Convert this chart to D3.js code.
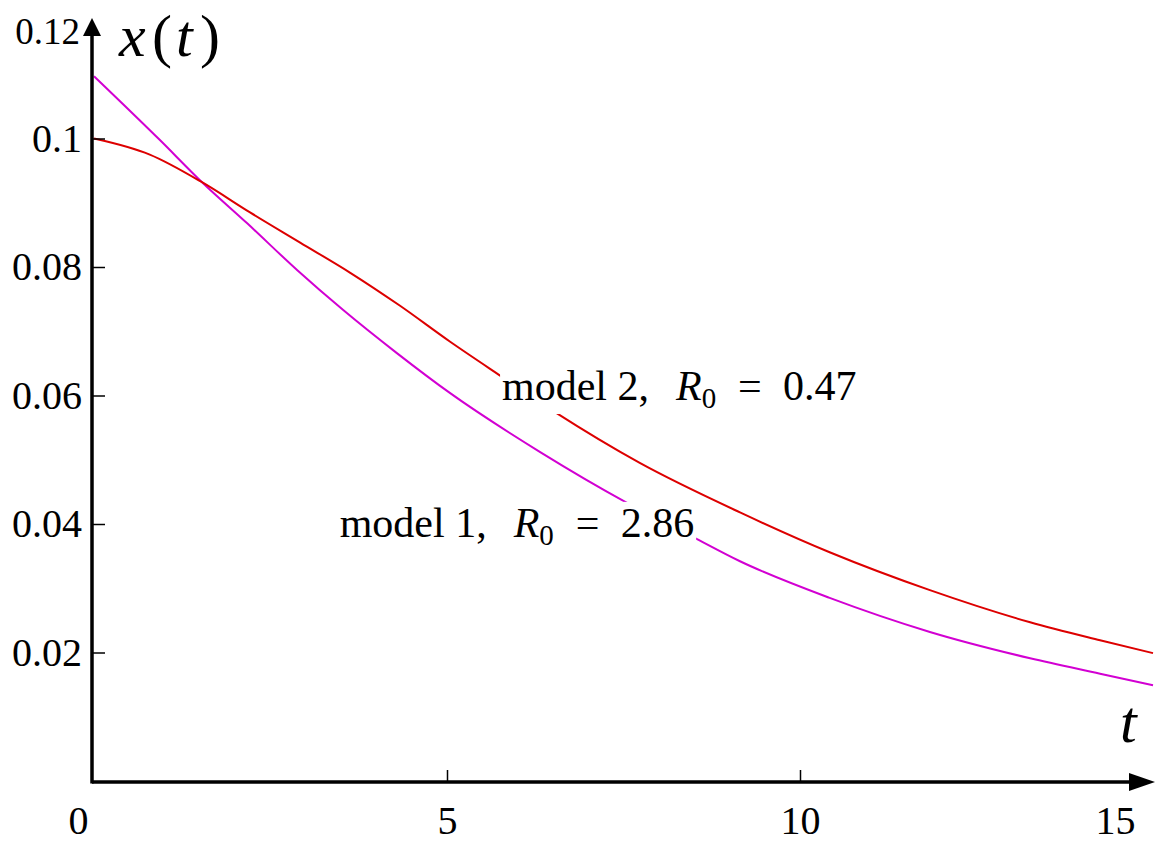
<!DOCTYPE html>
<html>
<head>
<meta charset="utf-8">
<script src="https://cdn.jsdelivr.net/npm/d3@7"></script>
<style>
  body { margin: 0; background: #fff; }
  svg { display: block; font-family: "Liberation Serif", "DejaVu Serif", serif; }
  .tick text { font-family: "Liberation Serif", "DejaVu Serif", serif; font-size: 40px; fill: #000; }
  .math { font-style: italic; }
</style>
</head>
<body>
<div id="chart"></div>
<script>
// values
const model1T = [0, 0.93, 1.53, 2.17, 2.88, 3.53, 4.29, 5.04, 6.32, 7.55, 8.48, 9.15, 10.42, 11.84, 13.26, 14.25, 15];
const model1X = [0.1097, 0.0998, 0.0932, 0.0868, 0.0795, 0.0733, 0.0666, 0.0604, 0.0512, 0.0433, 0.038, 0.0342, 0.0285, 0.0232, 0.0191, 0.0167, 0.0149];
const model2T = [0, 0.79, 1.53, 2.21, 2.92, 3.63, 4.33, 5.04, 5.78, 6.53, 7.73, 9.15, 10.42, 11.84, 13.26, 14.25, 15];
const model2X = [0.1, 0.0975, 0.0932, 0.0885, 0.0838, 0.0791, 0.074, 0.0684, 0.0629, 0.0574, 0.0495, 0.0418, 0.0356, 0.0297, 0.0247, 0.0219, 0.0199];
const xTicks = [0, 5, 10, 15];
const yTicks = [0.02, 0.04, 0.06, 0.08, 0.1, 0.12];
const seriesNames = ["model 1", "model 2"];
const seriesR0 = ["2.86", "0.47"];

const width = 1166, height = 847;
const margin = { top: 10, right: 13, bottom: 66, left: 94 };

const x = d3.scaleLinear().domain([0, 15]).range([margin.left, width - margin.right]);
const y = d3.scaleLinear().domain([0, 0.12]).range([height - margin.bottom, margin.top]);

const svg = d3.select("#chart").append("svg")
  .attr("width", width)
  .attr("height", height);

const series = [
  { name: seriesNames[0], r0: seriesR0[0], color: "#d200d2", points: model1T.map((t, i) => [t, model1X[i]]) },
  { name: seriesNames[1], r0: seriesR0[1], color: "#dd0000", points: model2T.map((t, i) => [t, model2X[i]]) },
];

const line = d3.line()
  .x((d) => x(d[0]))
  .y((d) => y(d[1]))
  .curve(d3.curveMonotoneX);

svg.append("g")
  .selectAll("path")
  .data(series)
  .join("path")
  .attr("fill", "none")
  .attr("stroke", (d) => d.color)
  .attr("stroke-width", 2)
  .attr("d", (d) => line(d.points));

// labels sit on white boxes that hide the curves behind them
const labelAnchors = [
  { t: 3.48, v: 0.038 },
  { t: 5.78, v: 0.0593 },
];
const gLabels = svg.append("g");
series.forEach((s, i) => {
  const x0 = x(labelAnchors[i].t);
  const g = gLabels.append("g");
  const text = g.append("text")
    .attr("x", x0)
    .attr("y", y(labelAnchors[i].v))
    .attr("font-size", 42);
  text.append("tspan").text(s.name + ",");
  text.append("tspan").attr("class", "math").attr("x", x0 + 174).text("R");
  text.append("tspan").attr("font-size", 29).attr("dy", 8).text("0");
  text.append("tspan").attr("x", x0 + 236).attr("dy", -8).text("=");
  text.append("tspan").attr("x", x0 + 281).text(s.r0);
  const bb = text.node().getBBox();
  g.insert("rect", "text")
    .attr("x", bb.x - 2)
    .attr("y", bb.y + 2)
    .attr("width", bb.width + 4)
    .attr("height", bb.height - 2)
    .attr("fill", "#fff");
});

// axes
svg.append("g")
  .attr("transform", `translate(0,${y(0) + 1})`)
  .call(d3.axisBottom(x).tickValues(xTicks).tickSize(-12).tickPadding(24).tickFormat(d3.format("d")))
  .call((g) => g.select(".domain").remove())
  .call((g) => g.selectAll(".tick line").attr("stroke-width", 1.5)
    .style("display", (d) => (d === 0 || d === 15 ? "none" : null)))
  .call((g) => g.selectAll(".tick text")
    .attr("dx", (d) => (d === 0 ? -16 : d === 15 ? -38 : 0)));

svg.append("g")
  .attr("transform", `translate(${x(0) - 2},0)`)
  .call(d3.axisLeft(y).tickValues(yTicks).tickSize(-13).tickPadding(10).tickFormat((d) => d3.format("")(+d.toFixed(2))))
  .call((g) => g.select(".domain").remove())
  .call((g) => g.selectAll(".tick line").attr("stroke-width", 1.5)
    .style("display", (d) => (d === 0.12 ? "none" : null)))
  .call((g) => g.selectAll(".tick")
    .filter((d) => d === 0.12)
    .select("text")
    .style("font-size", "37px")
    .attr("dy", "0.32em")
    .attr("y", 22)
    .attr("x", -12));

// axis lines with arrow heads
const axisX0 = x(0) - 2, axisY0 = y(0) + 1;
svg.append("line")
  .attr("x1", axisX0).attr("x2", x(15) - 20)
  .attr("y1", axisY0).attr("y2", axisY0)
  .attr("stroke", "#000").attr("stroke-width", 3.5);
svg.append("line")
  .attr("x1", axisX0).attr("x2", axisX0)
  .attr("y1", axisY0 + 1.5).attr("y2", y(0.12) + 22)
  .attr("stroke", "#000").attr("stroke-width", 3.5);
svg.append("path")
  .attr("d", `M${x(15) + 2},${axisY0} L${x(15) - 24},${axisY0 - 9} L${x(15) - 24},${axisY0 + 9} Z`)
  .attr("fill", "#000");
svg.append("path")
  .attr("d", `M${axisX0},${y(0.12) + 8} L${axisX0 - 9},${y(0.12) + 26} L${axisX0 + 9},${y(0.12) + 26} Z`)
  .attr("fill", "#000");

// axis titles
const titleY = svg.append("text")
  .attr("y", 56)
  .attr("font-size", 60);
titleY.append("tspan").attr("class", "math").attr("x", 119).text("x");
titleY.append("tspan").attr("x", 152).text("(");
titleY.append("tspan").attr("class", "math").attr("x", 176).text("t");
titleY.append("tspan").attr("x", 200).text(")");

svg.append("text")
  .attr("class", "math")
  .attr("x", 1120)
  .attr("y", 742)
  .attr("font-size", 60)
  .text("t");
</script>
</body>
</html>
